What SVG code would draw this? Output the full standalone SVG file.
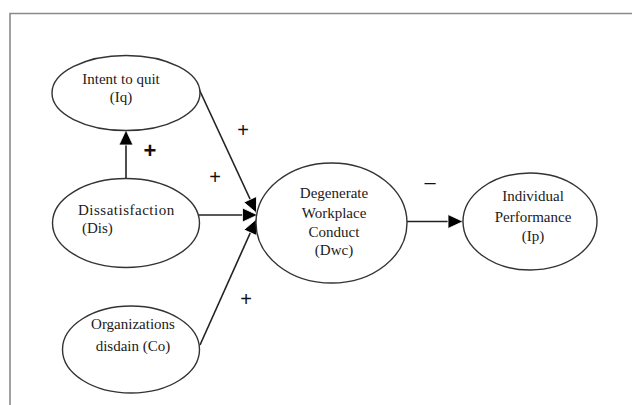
<svg xmlns="http://www.w3.org/2000/svg" width="632" height="405" viewBox="0 0 632 405">
<style>
  .node { fill: #ffffff; stroke: #333333; stroke-width: 1.4; }
  .lbl { font-family: "Liberation Serif", "Times New Roman", serif; font-size: 15px; fill: #1a1a1a; text-anchor: middle; }
  .lbl-start { text-anchor: start; }
  .conn { stroke: #222222; stroke-width: 1.6; fill: none; }
  .sign { font-family: "Liberation Sans", Arial, sans-serif; fill: #111111; text-anchor: middle; }
</style>
<defs>
  <marker id="arrow" markerUnits="userSpaceOnUse" markerWidth="18" markerHeight="18" viewBox="0 0 18 18" refX="16" refY="9" orient="auto">
    <path d="M1,2 L16,9 L1,16 Z" fill="#000000" stroke="#ffffff" stroke-width="0.8"/>
  </marker>
</defs>
<rect width="632" height="405" fill="#ffffff"/>
<path d="M10,405 V13.5 H632" fill="none" stroke="#8a8a8a" stroke-width="1.6"/>

<g id="connectors">
  <line class="conn" x1="126" y1="179" x2="126" y2="130" marker-end="url(#arrow)"/>
  <line class="conn" x1="199" y1="89" x2="256.5" y2="213" marker-end="url(#arrow)"/>
  <line class="conn" x1="199" y1="215" x2="257.5" y2="215" stroke-width="2" marker-end="url(#arrow)"/>
  <line class="conn" x1="200" y1="345" x2="256.5" y2="219" marker-end="url(#arrow)"/>
  <line class="conn" x1="407" y1="221.5" x2="463" y2="221.5" stroke-width="2" marker-end="url(#arrow)"/>
  <text class="sign" x="150" y="158" font-size="22" font-weight="bold">+</text>
  <text class="sign" x="243" y="137" font-size="20">+</text>
  <text class="sign" x="215" y="184" font-size="20">+</text>
  <text class="sign" x="246" y="306" font-size="20">+</text>
  <text class="sign" x="430" y="189" font-size="20">–</text>
</g>

<g id="intent">
  <ellipse class="node" cx="126" cy="93" rx="74" ry="37.5"/>
  <text class="lbl" x="121" y="84">Intent to quit</text>
  <text class="lbl" x="121" y="102">(Iq)</text>
</g>

<g id="dissatisfaction">
  <ellipse class="node" cx="126" cy="223" rx="73.5" ry="44.5"/>
  <text class="lbl lbl-start" x="78" y="215" letter-spacing="0.5">Dissatisfaction</text>
  <text class="lbl lbl-start" x="82" y="233">(Dis)</text>
</g>

<g id="organizations">
  <ellipse class="node" cx="131" cy="349.5" rx="68.5" ry="43.5"/>
  <text class="lbl" x="133" y="329">Organizations</text>
  <text class="lbl" x="133" y="351">disdain (Co)</text>
</g>

<g id="degenerate">
  <ellipse class="node" cx="331.5" cy="223" rx="75.5" ry="60"/>
  <text class="lbl" x="334" y="198">Degenerate</text>
  <text class="lbl" x="334" y="218">Workplace</text>
  <text class="lbl" x="334" y="237">Conduct</text>
  <text class="lbl" x="334" y="255">(Dwc)</text>
</g>

<g id="performance">
  <ellipse class="node" cx="530" cy="221.5" rx="67" ry="48.5"/>
  <text class="lbl" x="533" y="201">Individual</text>
  <text class="lbl" x="533" y="222">Performance</text>
  <text class="lbl" x="533" y="241">(Ip)</text>
</g>
</svg>
